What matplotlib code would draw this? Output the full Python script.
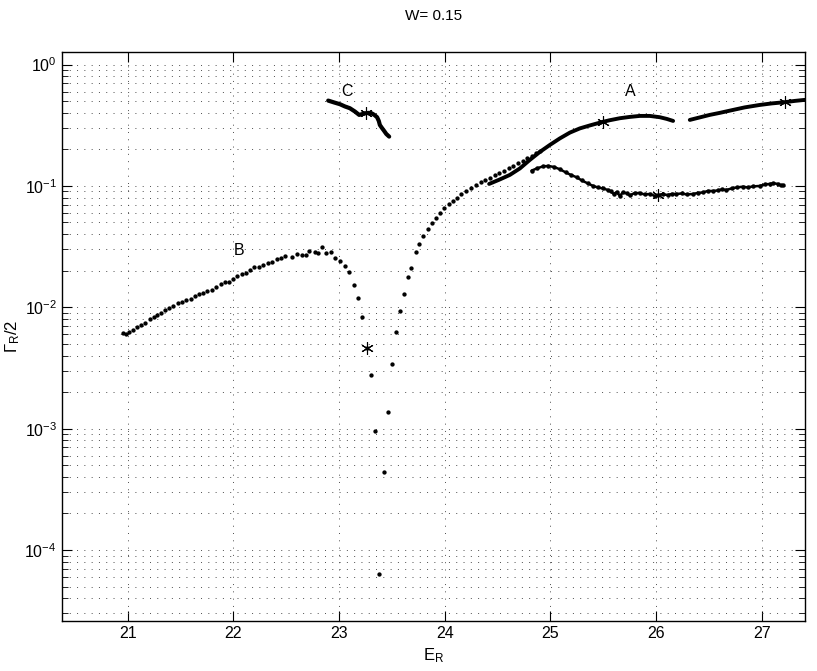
import matplotlib
matplotlib.use("Agg")
import matplotlib.pyplot as plt
from matplotlib.ticker import LogLocator, NullFormatter, FixedLocator

plt.rcParams["font.family"] = ["Liberation Sans", "DejaVu Sans"]
plt.rcParams["mathtext.default"] = "regular"

# dotted trajectory: branch B, the dip and the rise towards A
b_energy = [
    20.953, 20.984, 21.015, 21.047, 21.085, 21.126, 21.167, 21.208, 21.246, 21.280,
    21.315, 21.353, 21.391, 21.431, 21.473, 21.514, 21.554, 21.596, 21.640, 21.677,
    21.715, 21.753, 21.795, 21.838, 21.880, 21.921, 21.956, 21.996, 22.037, 22.081,
    22.119, 22.157, 22.195, 22.239, 22.283, 22.327, 22.368, 22.410, 22.450, 22.491,
    22.557, 22.605, 22.649, 22.687, 22.718, 22.769, 22.803, 22.838, 22.876, 22.921,
    22.964, 23.009, 23.053, 23.096, 23.141, 23.179, 23.217, 23.261, 23.302, 23.340,
    23.377, 23.425, 23.463, 23.500, 23.538, 23.576, 23.614, 23.652, 23.677, 23.728,
    23.753, 23.791, 23.841, 23.876, 23.914, 23.952, 23.995, 24.037, 24.078, 24.113,
    24.153, 24.198, 24.245, 24.295, 24.340, 24.383, 24.428, 24.472, 24.516, 24.560,
    24.605, 24.648, 24.693, 24.737, 24.780, 24.825, 24.869, 24.907,
]
b_width = [
    6.17e-3, 6.06e-3, 6.26e-3, 6.46e-3, 6.84e-3, 7.19e-3, 7.38e-3, 7.96e-3, 8.32e-3, 8.69e-3,
    9.03e-3, 9.45e-3, 9.81e-3, 1.031e-2, 1.091e-2, 1.112e-2, 1.142e-2, 1.177e-2, 1.240e-2, 1.287e-2,
    1.319e-2, 1.355e-2, 1.397e-2, 1.470e-2, 1.565e-2, 1.616e-2, 1.626e-2, 1.695e-2, 1.794e-2, 1.864e-2,
    1.928e-2, 2.030e-2, 2.137e-2, 2.162e-2, 2.245e-2, 2.318e-2, 2.363e-2, 2.487e-2, 2.564e-2, 2.633e-2,
    2.584e-2, 2.767e-2, 2.715e-2, 2.700e-2, 2.895e-2, 2.857e-2, 2.803e-2, 3.142e-2, 2.819e-2, 2.873e-2,
    2.535e-2, 2.422e-2, 2.198e-2, 1.965e-2, 1.536e-2, 1.204e-2, 8.37e-3, 4.66e-3, 2.77e-3, 9.55e-4,
    6.33e-5, 4.39e-4, 1.370e-3, 3.41e-3, 6.26e-3, 9.41e-3, 1.280e-2, 1.788e-2, 2.109e-2, 2.857e-2,
    3.324e-2, 3.848e-2, 4.446e-2, 4.926e-2, 5.478e-2, 6.02e-2, 6.59e-2, 7.15e-2, 7.56e-2, 8.01e-2,
    8.64e-2, 9.15e-2, 9.68e-2, 0.1019, 0.1073, 0.1121, 0.1171, 0.1226, 0.1280, 0.1337,
    0.1407, 0.1470, 0.1539, 0.1616, 0.1692, 0.1768, 0.1861, 0.1954,
]

# branch C
c_energy = [22.898, 22.952, 23.009, 23.056, 23.103, 23.150, 23.191, 23.226, 23.254, 23.283,
            23.308, 23.335, 23.361, 23.377, 23.387, 23.406, 23.425, 23.448, 23.475]
c_width = [0.505, 0.488, 0.4716, 0.452, 0.437, 0.411, 0.385, 0.392, 0.3975, 0.400,
           0.3975, 0.385, 0.368, 0.343, 0.318, 0.301, 0.286, 0.268, 0.255]

# branch A, upper part (two pieces)
a1_energy = [24.421, 24.522, 24.617, 24.712, 24.806, 24.901, 24.996, 25.090, 25.185, 25.279,
             25.374, 25.494, 25.563, 25.658, 25.752, 25.847, 25.941, 26.036, 26.102, 26.162]
a1_width = [0.1039, 0.1131, 0.1233, 0.1394, 0.1638, 0.1907, 0.2178, 0.2464, 0.2751, 0.2979,
            0.3152, 0.337, 0.348, 0.3614, 0.3705, 0.3776, 0.3776, 0.3684, 0.3567, 0.3434]
a2_energy = [26.320, 26.414, 26.509, 26.603, 26.729, 26.840, 26.982, 27.095, 27.218, 27.313, 27.407]
a2_width = [0.350, 0.367, 0.385, 0.400, 0.423, 0.444, 0.465, 0.4786, 0.490, 0.502, 0.5117]

# branch A, lower part
a3_energy = [24.822, 24.872, 24.929, 24.979, 25.033, 25.090, 25.147, 25.194, 25.248, 25.298,
             25.355, 25.405, 25.449, 25.497, 25.544, 25.572, 25.601, 25.629, 25.658, 25.686,
             25.721, 25.752, 25.799, 25.847, 25.894, 25.941, 25.989, 26.020, 26.064, 26.112,
             26.149, 26.194, 26.244, 26.291, 26.351, 26.395, 26.443, 26.490, 26.540, 26.585,
             26.622, 26.667, 26.717, 26.764, 26.824, 26.868, 26.916, 26.982, 27.030, 27.077,
             27.108, 27.152, 27.181, 27.203]
a3_width = [0.1337, 0.1394, 0.1448, 0.1462, 0.1434, 0.1373, 0.1292, 0.1233, 0.1180, 0.1110,
            0.1049, 0.1000, 0.0972, 0.0954, 0.0927, 0.0901, 0.0859, 0.0892, 0.0827, 0.0884,
            0.0871, 0.0835, 0.0876, 0.0871, 0.0851, 0.0859, 0.0827, 0.0843, 0.0851, 0.0843,
            0.0859, 0.0859, 0.0867, 0.0851, 0.0859, 0.0876, 0.0884, 0.0909, 0.0909, 0.0918,
            0.0936, 0.0927, 0.0954, 0.0972, 0.0987, 0.0972, 0.0991, 0.1000, 0.1029, 0.1039,
            0.1053, 0.1039, 0.1010, 0.1013]

star_energy = [23.261, 23.254, 25.494, 27.218, 26.020]
star_width = [4.66e-3, 0.3975, 0.337, 0.490, 0.0843]

branch_labels = ["A", "B", "C"]
label_energy = [25.752, 22.05, 23.08]
label_width = [0.599, 0.0293, 0.599]

fig = plt.figure(figsize=(8.17, 6.71), dpi=100)
ax = fig.add_axes([0.0755, 0.0745, 0.9098, 0.8474])

ax.plot(b_energy, b_width, linestyle="none", marker="o", markersize=2.1, color="black")
ax.plot(c_energy, c_width, "-", lw=3.0, color="black", solid_capstyle="round")
ax.plot(a1_energy, a1_width, "-", lw=2.8, color="black", solid_capstyle="round")
ax.plot(a2_energy, a2_width, "-", lw=2.8, color="black", solid_capstyle="round")
ax.plot(a3_energy, a3_width, "-", lw=1.8, color="black", marker="o", markersize=2.2,
        solid_capstyle="round")
ax.plot(star_energy, star_width, linestyle="none", marker=(6, 2, 0), markersize=9,
        markeredgewidth=0.8, color="black")

for lab, ex, wy in zip(branch_labels, label_energy, label_width):
    ax.text(ex, wy, lab, fontsize=11.5, ha="center", va="center")

ax.set_yscale("log")
ax.set_xlim(20.376, 27.41)
ax.set_ylim(2.6e-5, 1.26)
ax.xaxis.set_major_locator(FixedLocator([21, 22, 23, 24, 25, 26, 27]))
ax.yaxis.set_major_locator(LogLocator(base=10, numticks=10))
ax.yaxis.set_minor_locator(LogLocator(base=10, subs=range(2, 10), numticks=20))
ax.yaxis.set_minor_formatter(NullFormatter())

grid_style = dict(color="0.3", linestyle=(0, (1, 6.5)), linewidth=0.7)
ax.grid(True, which="major", axis="both", **grid_style)
ax.grid(True, which="minor", axis="y", **grid_style)
ax.set_axisbelow(True)

ax.tick_params(which="both", direction="in", top=True, right=True, labelsize=11.5)
ax.tick_params(which="major", length=7, width=0.8)
ax.tick_params(which="minor", length=4, width=0.6)
for sp in ax.spines.values():
    sp.set_linewidth(1.0)

ax.set_title("W= 0.15", fontsize=11, pad=23)
ax.set_xlabel("E$_R$", fontsize=12, labelpad=4)
ax.set_ylabel("Γ$_R$/2", fontsize=12, labelpad=2)

fig.savefig("out.png", dpi=100)
